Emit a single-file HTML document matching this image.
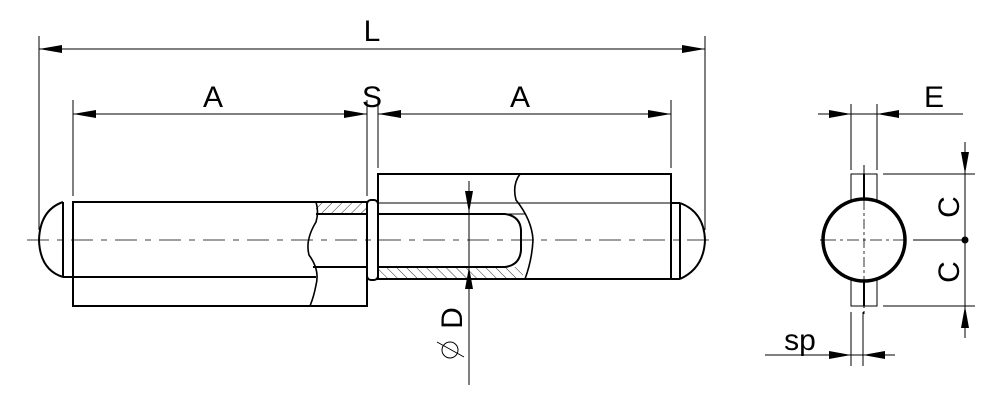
<!DOCTYPE html>
<html><head><meta charset="utf-8"><style>html,body{margin:0;padding:0;background:#fff}svg{display:block}</style></head>
<body>
<svg width="1000" height="401" viewBox="0 0 1000 401" xmlns="http://www.w3.org/2000/svg" font-family="Liberation Sans, sans-serif">
<defs>
<pattern id="h1" patternUnits="userSpaceOnUse" width="7" height="7" patternTransform="rotate(45)"><line x1="0" y1="0" x2="0" y2="7" stroke="#000" stroke-width="0.8"/></pattern>
<pattern id="h2" patternUnits="userSpaceOnUse" width="7" height="7" patternTransform="rotate(-45)"><line x1="0" y1="0" x2="0" y2="7" stroke="#000" stroke-width="0.8"/></pattern>
</defs>
<g stroke="#000" fill="none">
<g stroke-width="1">
<line x1="39" y1="36" x2="39" y2="230"/>
<line x1="705" y1="36" x2="705" y2="230"/>
<line x1="73" y1="100" x2="73" y2="196"/>
<line x1="367" y1="100" x2="367" y2="196"/>
<line x1="378" y1="100" x2="378" y2="168"/>
<line x1="671" y1="100" x2="671" y2="168"/>
<line x1="39" y1="49" x2="705" y2="49"/>
<line x1="73" y1="114" x2="367" y2="114"/>
<line x1="378" y1="114" x2="671" y2="114"/>
</g>
<line x1="27" y1="240" x2="715" y2="240" stroke-width="0.8" stroke-dasharray="22,8,6,8"/>
<rect x="316" y="202" width="50" height="12" fill="url(#h1)" stroke="none"/>
<rect x="378" y="267" width="145" height="12" fill="url(#h2)" stroke="none"/>
<g stroke-width="2">
<rect x="73" y="202" width="294" height="104"/>
<line x1="63" y1="277" x2="316" y2="277"/>
<line x1="63" y1="202" x2="63" y2="277"/>
<path d="M63 202 Q40 210 39 240 Q40 270 63 277"/>
<line x1="316" y1="214" x2="367" y2="214"/>
<line x1="313" y1="267" x2="367" y2="267"/>
<path d="M316 202 Q319 212 316 222 Q305 240 309 255 Q320 270 316 285 Q314 296 310 306" stroke-width="1.6"/>
<rect x="367" y="200" width="11" height="80" rx="4"/>
<rect x="378" y="174" width="293" height="105"/>
<line x1="378" y1="214" x2="505" y2="214"/>
<path d="M505 214 Q520 216 521 230 L521 250 Q520 265 505 267 L378 267"/>
<path d="M520 174 Q512 185 516 200 Q532 220 533 240 Q532 260 525 279" stroke-width="1.6"/>
<line x1="671" y1="203" x2="671" y2="279"/>
<line x1="671" y1="203" x2="680" y2="203"/>
<line x1="671" y1="279" x2="680" y2="279"/>
<line x1="680" y1="203" x2="680" y2="279"/>
<path d="M680 203 Q704 212 705 240 Q704 268 680 279"/>
</g>
<line x1="378" y1="203" x2="671" y2="203" stroke-width="1"/>
<line x1="505" y1="214" x2="525" y2="214" stroke-width="1"/>
<line x1="469" y1="181" x2="469" y2="385" stroke-width="1"/>
<circle cx="450" cy="350" r="8" stroke-width="1"/>
<line x1="437" y1="342" x2="464" y2="357" stroke-width="1"/>
<g stroke-width="1">
<line x1="851" y1="104" x2="851" y2="170"/>
<line x1="877" y1="104" x2="877" y2="170"/>
<line x1="818" y1="114" x2="963" y2="114"/>
<line x1="883" y1="174" x2="975" y2="174"/>
<line x1="883" y1="306" x2="975" y2="306"/>
<line x1="965" y1="142" x2="965" y2="338"/>
<line x1="851" y1="312" x2="851" y2="366"/>
<line x1="863" y1="312" x2="863" y2="366"/>
<line x1="765" y1="355" x2="895" y2="355"/>
<line x1="820" y1="240" x2="906" y2="240" stroke-dasharray="12,4,3,4"/>
<line x1="913" y1="240" x2="965" y2="240"/>
<line x1="864" y1="165" x2="864" y2="315" stroke-dasharray="10,3,3,3"/>
<rect x="851" y="174" width="26" height="30"/>
<rect x="851" y="276" width="26" height="30"/>
</g>
<line x1="864" y1="174" x2="864" y2="200" stroke-width="2"/>
<line x1="864" y1="280" x2="864" y2="306" stroke-width="2"/>
<circle cx="864" cy="240" r="41" stroke-width="3.5" fill="#fff"/>
<line x1="824" y1="240" x2="904" y2="240" stroke-width="0.8" stroke-dasharray="12,4,3,4"/>
<line x1="864" y1="200" x2="864" y2="280" stroke-width="0.8" stroke-dasharray="10,3,3,3"/>
</g>
<g fill="#000">
<polygon points="39,49 62,45 62,53"/>
<polygon points="705,49 682,45 682,53"/>
<polygon points="73,114 96,110 96,118"/>
<polygon points="367,114 344,110 344,118"/>
<polygon points="378,114 401,110 401,118"/>
<polygon points="671,114 648,110 648,118"/>
<polygon points="469,213 465,191 473,191"/>
<polygon points="469,267 465,289 473,289"/>
<polygon points="851,114 829,110 829,118"/>
<polygon points="877,114 899,110 899,118"/>
<polygon points="965,174 961,152 969,152"/>
<polygon points="965,306 961,328 969,328"/>
<circle cx="965" cy="240" r="3.5"/>
<polygon points="851,355 829,351 829,359"/>
<polygon points="863,355 885,351 885,359"/>
</g>
<g font-size="30" fill="#000" text-anchor="middle">
<text x="372" y="41">L</text>
<text x="213" y="107">A</text>
<text x="372" y="107">S</text>
<text x="520" y="107">A</text>
<text x="934" y="107">E</text>
<text x="800" y="350">sp</text>
<text transform="translate(959,207) rotate(-90)">C</text>
<text transform="translate(959,272) rotate(-90)">C</text>
<text transform="translate(462,318) rotate(-90)">D</text>
</g>
</svg>
</body></html>
